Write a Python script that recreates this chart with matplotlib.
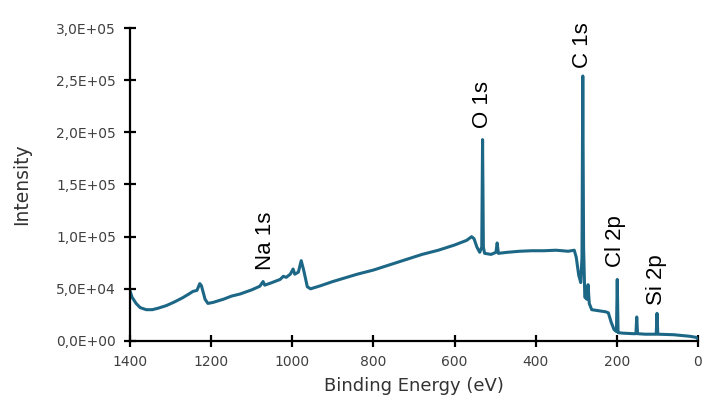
import matplotlib
matplotlib.use('Agg')
import matplotlib.pyplot as plt
from matplotlib.ticker import FuncFormatter, MultipleLocator

# survey spectrum (binding energy in eV, counts)
binding_energy = [
    1400, 1395, 1385, 1375, 1360, 1345, 1330, 1310, 1290, 1270, 1255, 1245, 1235,
    1228, 1224, 1215, 1208, 1195, 1170, 1150, 1129, 1100, 1080, 1072, 1068, 1050,
    1030, 1022, 1015, 1005, 998, 994, 985, 978, 972, 963, 955, 930, 900, 870, 840,
    800, 760, 720, 680, 640, 600, 570, 558, 552, 545, 538, 533, 531, 529, 526, 510,
    498, 495, 492, 470, 440, 410, 380, 350, 320, 305, 300, 294, 289, 286, 284, 282,
    279, 274, 271, 268, 262, 245, 228, 221, 214, 207, 201, 199, 197, 185, 160, 153,
    151, 149, 130, 103, 101, 99, 60, 20, 5, 0,
]
intensity = [
    48000, 42000, 36000, 32000, 30000, 30000, 31500, 34000, 37500, 41500, 45000, 47500, 48500,
    55000, 53000, 40000, 36000, 37000, 40000, 43000, 45000, 49000, 52500, 57000, 53500, 56000,
    59000, 62000, 61000, 64000, 69000, 64000, 66000, 77000, 68000, 52000, 50000, 53000, 57000, 60500, 64000,
    68000, 73000, 78000, 83000, 87000, 92000, 96500, 100000, 98000, 90000, 85000, 90000, 193000, 90000, 84000, 83000,
    85000, 94000, 84000, 85000, 86000, 86500, 86500, 87000, 86000, 87000, 80000, 63000, 56000, 80000, 254000, 90000,
    42000, 40000, 54000, 36000, 30000, 29000, 28000, 27000, 18000, 11000, 9000, 59000, 8000, 7500, 7000, 7000,
    23000, 7000, 6500, 6500, 26500, 6500, 6000, 4500, 3500, 2000,
]

peak_labels = ['Na 1s', 'O 1s', 'C 1s', 'Cl 2p', 'Si 2p']
label_x = [1067, 531, 284, 203, 103]
label_y = [68000, 204000, 262000, 71000, 34500]

fig = plt.figure(figsize=(7.02, 4.07), dpi=100)
ax = fig.add_axes([0.1852, 0.1622, 0.8091, 0.769])
ax.plot(binding_energy, intensity, color='#1d6786', linewidth=2.2)

for name, x, y in zip(peak_labels, label_x, label_y):
    ax.text(x, y, name, rotation=90, ha='center', va='bottom', fontsize=16,
            family='Liberation Sans')

ax.set_xlim(1400, 0)
ax.set_ylim(0, 300000)
ax.xaxis.set_major_locator(MultipleLocator(200))
ax.yaxis.set_major_locator(MultipleLocator(50000))
ax.yaxis.set_major_formatter(FuncFormatter(lambda v, p: f'{v:.1E}'.replace('.', ',')))

for side in ['top', 'right']:
    ax.spines[side].set_visible(False)
for side in ['left', 'bottom']:
    ax.spines[side].set_linewidth(1.6)
ax.tick_params(direction='inout', length=8, width=1.6, labelsize=10, colors='black',
               labelcolor='#404040')
ax.tick_params(axis='y', pad=6)
ax.tick_params(axis='x', pad=6)

ax.set_xlabel('Binding Energy (eV)', fontsize=13, color='#333333', labelpad=6)
ax.set_ylabel('Intensity', fontsize=13.5, color='#333333', labelpad=18)

fig.savefig('out.png', dpi=100)
